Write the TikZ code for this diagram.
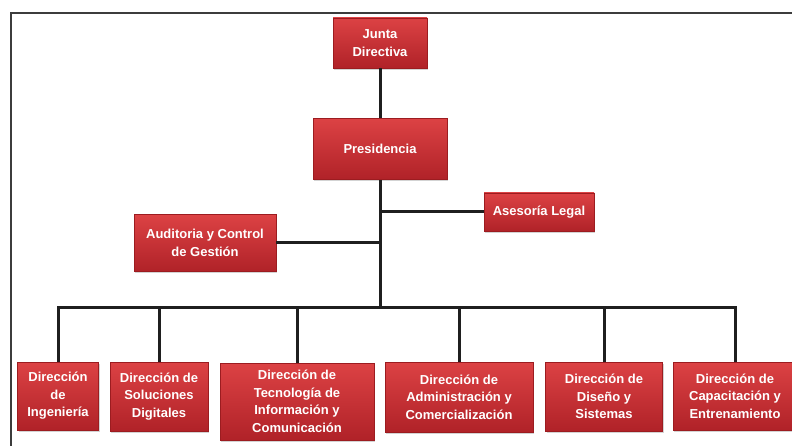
\documentclass[tikz,border=0pt]{standalone}
\usepackage{fontspec}
\setmainfont{Liberation Sans}
\usetikzlibrary{positioning,shadows}
\definecolor{boxtop}{RGB}{220,66,68}
\definecolor{boxbot}{RGB}{176,34,40}
\definecolor{boxedge}{RGB}{156,28,32}
\definecolor{framecol}{RGB}{60,60,60}
\tikzset{
  orgbox/.style={draw=boxedge,line width=0.6pt,top color=boxtop,bottom color=boxbot,
    text=white,font=\bfseries\fontsize{13}{17.5}\selectfont,align=center,inner sep=0pt,
    drop shadow={opacity=0.35,shadow xshift=1pt,shadow yshift=-2pt}},
  orgline/.style={line width=3pt,draw=black!88},
}
\begin{document}
\begin{tikzpicture}[x=1pt,y=-1pt]
  \useasboundingbox (0,0) rectangle (792,446);
  %% frame
  \draw[framecol,line width=2.2pt] (11,446) -- (11,13) -- (792,13);

  %% upper part
  \node[orgbox,minimum width=94pt,minimum height=50pt] (junta) at (380,43) {Junta\\Directiva};
  \node[orgbox,minimum width=134pt,minimum height=61pt] (presidencia) at (380,149) {Presidencia};
  \node[orgbox,minimum width=110pt,minimum height=38pt] (asesoria) at (539,212) {Asesoría Legal};
  \node[orgbox,minimum width=142pt,minimum height=57pt] (auditoria) at (205,243) {Auditoria y Control\\de Gestión};
  \coordinate (bus) at (380,307);

  %% direcciones
  \node[orgbox,minimum width=81pt,minimum height=68pt] (ding) at (58,396) {Dirección\\de\\Ingeniería};
  \node[orgbox,minimum width=98pt,minimum height=69pt] (dsol) at (159,396.5) {Dirección de\\Soluciones\\Digitales};
  \node[orgbox,minimum width=154pt,minimum height=77pt] (dtic) at (297,401.5) {Dirección de\\Tecnología de\\Información y\\Comunicación};
  \node[orgbox,minimum width=148pt,minimum height=70pt] (dadm) at (459,397) {Dirección de\\Administración y\\Comercialización};
  \node[orgbox,minimum width=117pt,minimum height=69pt] (ddis) at (604,396.5) {Dirección de\\Diseño y\\Sistemas};
  \node[orgbox,minimum width=124pt,minimum height=68pt] (dcap) at (735,396) {Dirección de\\Capacitación y\\Entrenamiento};

  %% connectors
  \begin{scope}[on background layer/.try]
  \draw[orgline] (junta) -- (presidencia);
  \draw[orgline] (presidencia.south) -- (bus);
  \draw[orgline] (asesoria.west) -- (asesoria.west -| bus);
  \draw[orgline] (auditoria.east) -- (auditoria.east -| bus);
  \draw[orgline] (ding.north) |- (dcap.north |- bus) -- (dcap.north);
  \foreach \d in {dsol,dtic,dadm,ddis}
    \draw[orgline] (\d.north) -- (\d.north |- bus);
  \end{scope}
\end{tikzpicture}
\end{document}
